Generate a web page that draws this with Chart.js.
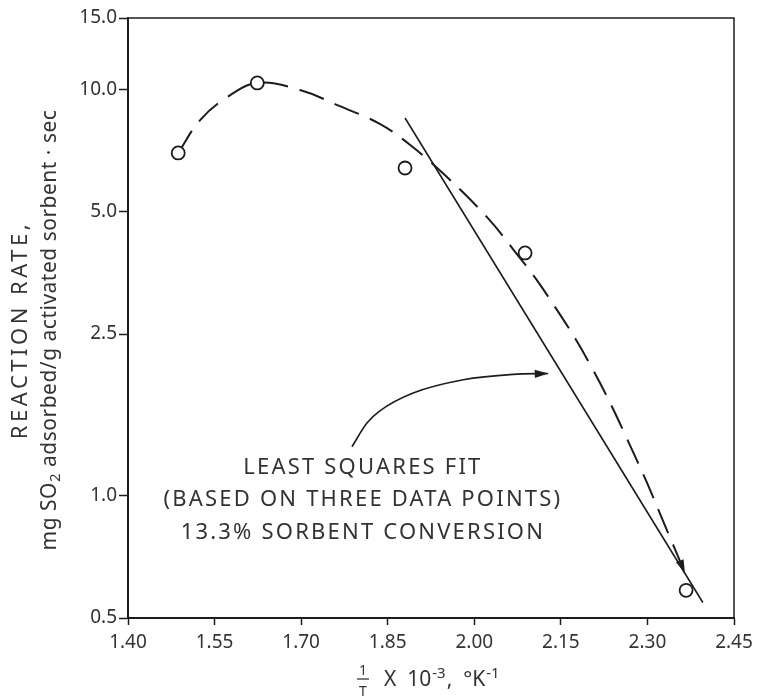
<!DOCTYPE html>
<html>
<head>
<meta charset="utf-8">
<script src="https://cdn.jsdelivr.net/npm/chart.js@4.4.0/dist/chart.umd.min.js"></script>
<style>
    html, body { margin: 0; padding: 0; background: #fff; }
    #wrap { width: 759px; height: 699px; }
</style>
</head>
<body>
<div id="wrap"><canvas id="RateChart" width="759" height="699"></canvas></div>
<script>
// measured points (1/T x 10^-3, reaction rate)
const pointX = [1.487, 1.624, 1.880, 2.088, 2.367];
const pointY = [6.98, 10.38, 6.41, 3.96, 0.585];

// dashed trend curve
const curveX = [1.487, 1.525, 1.572, 1.624, 1.698, 1.767, 1.837, 1.889, 1.949, 2.022, 2.071, 2.119, 2.201, 2.282, 2.339, 2.365];
const curveY = [6.98, 8.41, 9.58, 10.38, 9.97, 9.10, 8.22, 7.30, 6.16, 4.85, 3.98, 3.23, 2.10, 1.22, 0.79, 0.645];

// least squares fit line ends
const fitX = [1.880, 2.396];
const fitY = [8.51, 0.546];

// curved pointer from the note to the fit line
const pointerX = [1.788, 1.814, 1.837, 1.894, 1.981, 2.067, 2.128];
const pointerY = [1.32, 1.51, 1.62, 1.79, 1.93, 1.99, 2.00];

const xTicks = [1.40, 1.55, 1.70, 1.85, 2.00, 2.15, 2.30, 2.45];
const yTicks = [0.5, 1.0, 2.5, 5.0, 10.0, 15.0];

const noteLines = ['LEAST SQUARES FIT', '(BASED ON THREE DATA POINTS)', '13.3% SORBENT CONVERSION'];
const noteX = 1.807;
const noteY = [1.17, 0.975, 0.81];

const FONT = '"Noto Sans", "DejaVu Sans", sans-serif';
const INK = '#1c1c1c';
const TEXT = '#333';

function zip(xs, ys) {
    return xs.map(function (x, i) { return {x: x, y: ys[i]}; });
}

function arrowHead(ctx, meta, size) {
    let pts = meta.data;
    let a = pts[pts.length - 2], b = pts[pts.length - 1];
    let ang = Math.atan2(b.y - a.y, b.x - a.x);
    ctx.save();
    ctx.fillStyle = INK;
    ctx.beginPath();
    ctx.moveTo(b.x, b.y);
    ctx.lineTo(b.x - size * Math.cos(ang - 0.3), b.y - size * Math.sin(ang - 0.3));
    ctx.lineTo(b.x - size * Math.cos(ang + 0.3), b.y - size * Math.sin(ang + 0.3));
    ctx.closePath();
    ctx.fill();
    ctx.restore();
}

const decorations = {
    id: 'decorations',
    afterDatasetsDraw: function (chart) {
        let ctx = chart.ctx;
        arrowHead(ctx, chart.getDatasetMeta(1), 14);
        arrowHead(ctx, chart.getDatasetMeta(3), 14);
    },
    afterDraw: function (chart) {
        let ctx = chart.ctx;
        let area = chart.chartArea;
        let xs = chart.scales.x, ys = chart.scales.y;

        // top and right frame
        ctx.save();
        ctx.strokeStyle = INK;
        ctx.lineWidth = 1.5;
        ctx.beginPath();
        ctx.moveTo(area.left, area.top);
        ctx.lineTo(area.right, area.top);
        ctx.lineTo(area.right, area.bottom);
        ctx.stroke();
        ctx.restore();

        // note text
        ctx.save();
        ctx.fillStyle = TEXT;
        ctx.font = '22px ' + FONT;
        ctx.letterSpacing = '2.2px';
        ctx.textAlign = 'center';
        ctx.textBaseline = 'middle';
        noteLines.forEach(function (line, i) {
            ctx.fillText(line, xs.getPixelForValue(noteX), ys.getPixelForValue(noteY[i]));
        });
        ctx.restore();

        // y title, two rotated lines
        let cy = (area.top + area.bottom) / 2 + 12;
        ctx.save();
        ctx.fillStyle = TEXT;
        ctx.translate(21, cy);
        ctx.rotate(-Math.PI / 2);
        ctx.textAlign = 'center';
        ctx.textBaseline = 'middle';
        ctx.font = '22px ' + FONT;
        ctx.letterSpacing = '3.5px';
        ctx.fillText('REACTION RATE,', 0, 0);
        ctx.restore();

        ctx.save();
        ctx.fillStyle = TEXT;
        ctx.translate(50, cy);
        ctx.rotate(-Math.PI / 2);
        ctx.textBaseline = 'middle';
        ctx.letterSpacing = '0.5px';
        let big = '21px ' + FONT, small = '15px ' + FONT;
        let parts = [['mg SO', big, 0], ['2', small, 6], [' adsorbed/g activated sorbent \u00b7 sec', big, 0]];
        let total = 0;
        parts.forEach(function (p) { ctx.font = p[1]; total += ctx.measureText(p[0]).width; });
        let px = -total / 2;
        parts.forEach(function (p) {
            ctx.font = p[1];
            ctx.fillText(p[0], px, p[2]);
            px += ctx.measureText(p[0]).width;
        });
        ctx.restore();

        // x title: 1/T x 10^-3, degK^-1
        ctx.save();
        ctx.fillStyle = TEXT;
        ctx.strokeStyle = TEXT;
        ctx.textAlign = 'center';
        ctx.textBaseline = 'alphabetic';
        ctx.font = '14px ' + FONT;
        ctx.fillText('1', 363, 675);
        ctx.fillText('T', 363, 696);
        ctx.lineWidth = 1.3;
        ctx.beginPath();
        ctx.moveTo(357, 679);
        ctx.lineTo(369, 679);
        ctx.stroke();
        ctx.textAlign = 'left';
        let tx = 384;
        let xparts = [['X  10', '21px ' + FONT, 0], ['-3', '15px ' + FONT, -8], [',  \u00b0K', '21px ' + FONT, 0], ['-1', '15px ' + FONT, -8]];
        xparts.forEach(function (p) {
            ctx.font = p[1];
            ctx.fillText(p[0], tx, 686 + p[2]);
            tx += ctx.measureText(p[0]).width + 1;
        });
        ctx.restore();
    }
};

const rateChart = new Chart(
    document.getElementById('RateChart'),
    {
        type: 'scatter',
        data: {
            datasets: [
                {
                    label: 'measured',
                    data: zip(pointX, pointY),
                    showLine: false,
                    pointRadius: 6.5,
                    pointBorderWidth: 1.8,
                    pointBackgroundColor: '#fff',
                    pointBorderColor: INK
                },
                {
                    label: 'trend',
                    data: zip(curveX, curveY),
                    showLine: true,
                    borderColor: INK,
                    borderWidth: 2,
                    borderDash: [26, 12],
                    tension: 0.4,
                    pointRadius: 0
                },
                {
                    label: 'fit',
                    data: zip(fitX, fitY),
                    showLine: true,
                    borderColor: INK,
                    borderWidth: 1.6,
                    pointRadius: 0
                },
                {
                    label: 'pointer',
                    data: zip(pointerX, pointerY),
                    showLine: true,
                    borderColor: INK,
                    borderWidth: 1.6,
                    cubicInterpolationMode: 'monotone',
                    pointRadius: 0
                }
            ]
        },
        options: {
            responsive: false,
            animation: false,
            devicePixelRatio: 1,
            events: [],
            layout: {
                padding: {left: 0, right: 25, top: 18, bottom: 0}
            },
            plugins: {
                legend: {display: false},
                tooltip: {enabled: false}
            },
            scales: {
                x: {
                    type: 'linear',
                    min: 1.40,
                    max: 2.45,
                    afterBuildTicks: function (scale) {
                        scale.ticks = xTicks.map(function (v) { return {value: v}; });
                    },
                    afterFit: function (scale) {
                        scale.height = 81;
                    },
                    ticks: {
                        color: TEXT,
                        font: {family: FONT, size: 19},
                        padding: 6,
                        maxRotation: 0,
                        callback: function (v) { return v.toFixed(2); }
                    },
                    grid: {
                        drawOnChartArea: false,
                        drawTicks: true,
                        tickLength: 7,
                        tickWidth: 1.5,
                        color: INK
                    },
                    border: {display: true, color: INK, width: 2}
                },
                y: {
                    type: 'logarithmic',
                    min: 0.5,
                    max: 15,
                    afterBuildTicks: function (scale) {
                        scale.ticks = yTicks.map(function (v) { return {value: v}; });
                    },
                    afterFit: function (scale) {
                        scale.width = 128;
                    },
                    ticks: {
                        color: TEXT,
                        font: {family: FONT, size: 19},
                        padding: 2,
                        callback: function (v) { return Number(v).toFixed(1); }
                    },
                    grid: {
                        drawOnChartArea: false,
                        drawTicks: true,
                        tickLength: 9,
                        tickWidth: 1.5,
                        color: INK
                    },
                    border: {display: true, color: INK, width: 2}
                }
            }
        },
        plugins: [decorations]
    }
);
</script>
</body>
</html>
